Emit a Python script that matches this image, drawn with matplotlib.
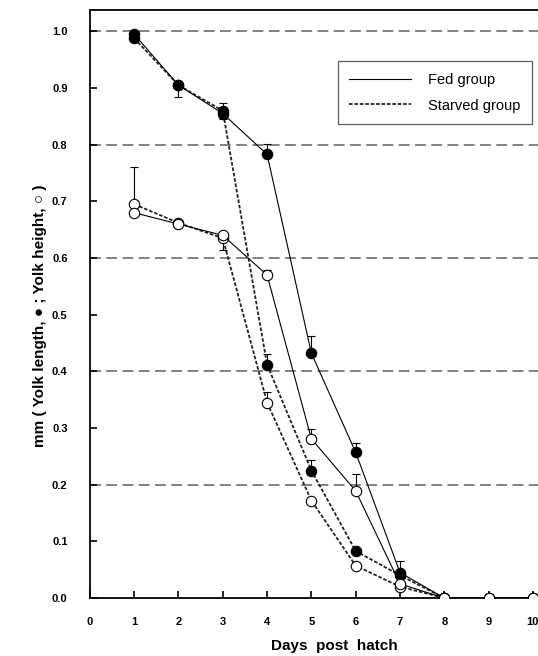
import matplotlib
matplotlib.use('Agg')
import matplotlib.pyplot as plt
import numpy as np

plt.rcParams['font.family'] = ['Liberation Sans', 'DejaVu Sans']

days = [1, 2, 3, 4, 5, 6, 7, 8, 9, 10]
days_starved = [1, 2, 3, 4, 5, 6, 7, 8]

# yolk length (filled circles)
fed_length = [0.995, 0.905, 0.855, 0.783, 0.432, 0.257, 0.045, 0.0, 0.0, 0.0]
fed_length_up = [0.005, 0.0, 0.018, 0.018, 0.03, 0.017, 0.02, 0.0, 0.0, 0.0]
fed_length_dn = [0.0, 0.02, 0.0, 0.0, 0.0, 0.0, 0.0, 0.0, 0.0, 0.0]
starved_length = [0.988, 0.905, 0.86, 0.412, 0.225, 0.083, 0.04, 0.0]
starved_length_up = [0.0, 0.0, 0.0, 0.018, 0.018, 0.0, 0.0, 0.0]
starved_length_dn = [0.0, 0.0, 0.015, 0.0, 0.0, 0.0, 0.0, 0.0]

# yolk height (open circles)
fed_height = [0.68, 0.66, 0.64, 0.57, 0.281, 0.189, 0.025, 0.0, 0.0, 0.0]
fed_height_up = [0.0, 0.0, 0.0, 0.008, 0.018, 0.03, 0.0, 0.0, 0.0, 0.0]
fed_height_dn = [0.0, 0.0, 0.0, 0.0, 0.0, 0.0, 0.0, 0.0, 0.0, 0.0]
starved_height = [0.695, 0.662, 0.635, 0.345, 0.172, 0.057, 0.02, 0.0]
starved_height_up = [0.065, 0.0, 0.0, 0.018, 0.0, 0.0, 0.0, 0.0]
starved_height_dn = [0.0, 0.0, 0.02, 0.0, 0.0, 0.0, 0.0, 0.0]

xticks = list(range(0, 11))
yticks = [0.0, 0.1, 0.2, 0.3, 0.4, 0.5, 0.6, 0.7, 0.8, 0.9, 1.0]

fig = plt.figure(figsize=(5.38, 6.56), dpi=100)
ax = fig.add_axes([0.167, 0.0884, 0.84, 0.8966])

for yv in [0.2, 0.4, 0.6, 0.8, 1.0]:
    ax.axhline(yv, color='#777777', lw=1.3, ls=(0, (6, 3)), zorder=0)

solid = dict(color='black', lw=0.8, ls='-')
dashed = dict(color='#222222', lw=1.3, ls=(0, (2, 1)))
ebar = dict(ecolor='black', elinewidth=0.8, capsize=3, capthick=0.8)

ax.errorbar(days_starved, starved_length, yerr=[starved_length_dn, starved_length_up],
            marker='o', ms=7.5, mfc='black', mec='black', mew=0.8, zorder=3, **dashed, **ebar)
ax.errorbar(days, fed_length, yerr=[fed_length_dn, fed_length_up],
            marker='o', ms=7.5, mfc='black', mec='black', mew=0.8, zorder=3, **solid, **ebar)
ax.errorbar(days_starved, starved_height, yerr=[starved_height_dn, starved_height_up],
            marker='o', ms=7.5, mfc='white', mec='black', mew=0.8, zorder=4, **dashed, **ebar)
ax.errorbar(days, fed_height, yerr=[fed_height_dn, fed_height_up],
            marker='o', ms=7.5, mfc='white', mec='black', mew=0.8, zorder=4, **solid, **ebar)

# legend handles
h1, = ax.plot([], [], **solid)
h2, = ax.plot([], [], **dashed)
leg = ax.legend([h1, h2], ['Fed group', 'Starved group'], loc='upper right',
                bbox_to_anchor=(0.995, 0.925), fontsize=10.5, frameon=True,
                fancybox=False, edgecolor='#333333', handlelength=4.2,
                borderpad=0.8, labelspacing=0.8, handletextpad=1.2)
leg.get_frame().set_linewidth(0.9)

ax.set_xlim(0, 10.2)
ax.set_ylim(0, 1.038)
ax.set_xticks(xticks)
ax.set_yticks(yticks)
ax.set_xticklabels([str(t) for t in xticks], fontweight='bold', fontsize=8)
ax.set_yticklabels(['%.1f' % t for t in yticks], fontweight='bold', fontsize=8)
ax.tick_params(direction='in', length=5, width=1.2)
ax.tick_params(axis='x', pad=14)
ax.tick_params(axis='y', pad=16)

ax.spines['right'].set_visible(False)
for s in ['left', 'bottom', 'top']:
    ax.spines[s].set_linewidth(1.3)

ax.set_xlabel('Days  post  hatch', fontweight='bold', fontsize=11)
ax.xaxis.set_label_coords(0.54, -0.07)
ax.set_ylabel('mm ( Yolk length, \u25cf ; Yolk height, \u25cb )', fontweight='bold', fontsize=11)
ax.yaxis.set_label_coords(-0.095, 0.48)

plt.savefig('out.png', dpi=100)
